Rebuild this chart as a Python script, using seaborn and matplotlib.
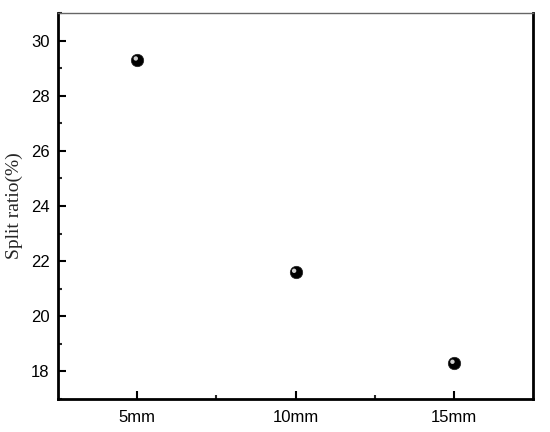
import pandas as pd
import matplotlib.pyplot as plt
import matplotlib.transforms as mtransforms
from matplotlib.ticker import MultipleLocator, FixedLocator
import seaborn as sns

# data
thickness = ["5mm", "10mm", "15mm"]
split_ratio = [29.3, 21.6, 18.3]

df = pd.DataFrame({"Thickness": thickness, "Split ratio": split_ratio})
df["pos"] = range(len(df))

sns.set_style("ticks")
plt.rcParams['font.family'] = ['Liberation Sans', 'DejaVu Sans']

fig = plt.figure(figsize=(5.5, 4.32), dpi=100)
ax = fig.add_axes([58 / 550, 33 / 432, 475 / 550, 386 / 432])

sns.scatterplot(data=df, x="pos", y="Split ratio", ax=ax, s=80, color="black",
                edgecolor="#222222", linewidth=0.5, zorder=3, legend=False)
# small highlight to give the spheres a shine
shine = mtransforms.offset_copy(ax.transData, fig=fig, x=-1.0, y=1.0, units='points')
ax.scatter(df["pos"], df["Split ratio"], s=10, color="#cfcfcf", edgecolor="none",
           transform=shine, zorder=4)

ax.set_xlim(-0.5, 2.5)
ax.set_ylim(17, 31)
ax.set_xticks(df["pos"])
ax.set_xticklabels(thickness)
ax.xaxis.set_minor_locator(FixedLocator([0.5, 1.5]))
ax.yaxis.set_minor_locator(MultipleLocator(1))
ax.set_yticks(range(18, 31, 2))

ax.tick_params(which='major', direction='in', length=6, width=1.5, labelsize=12, pad=8,
               colors='black')
ax.tick_params(which='minor', direction='in', length=3, width=1.5)
ax.tick_params(axis='y', pad=6)

ax.set_xlabel("")
ax.set_ylabel("Split ratio(%)", family=['Liberation Serif', 'DejaVu Serif'], fontsize=14,
              labelpad=6)

for side in ['left', 'bottom', 'right']:
    ax.spines[side].set_linewidth(2)
    ax.spines[side].set_color('black')
ax.spines['top'].set_linewidth(1.0)
ax.spines['top'].set_color('#666666')

fig.savefig("out.png", dpi=100, facecolor="white")
